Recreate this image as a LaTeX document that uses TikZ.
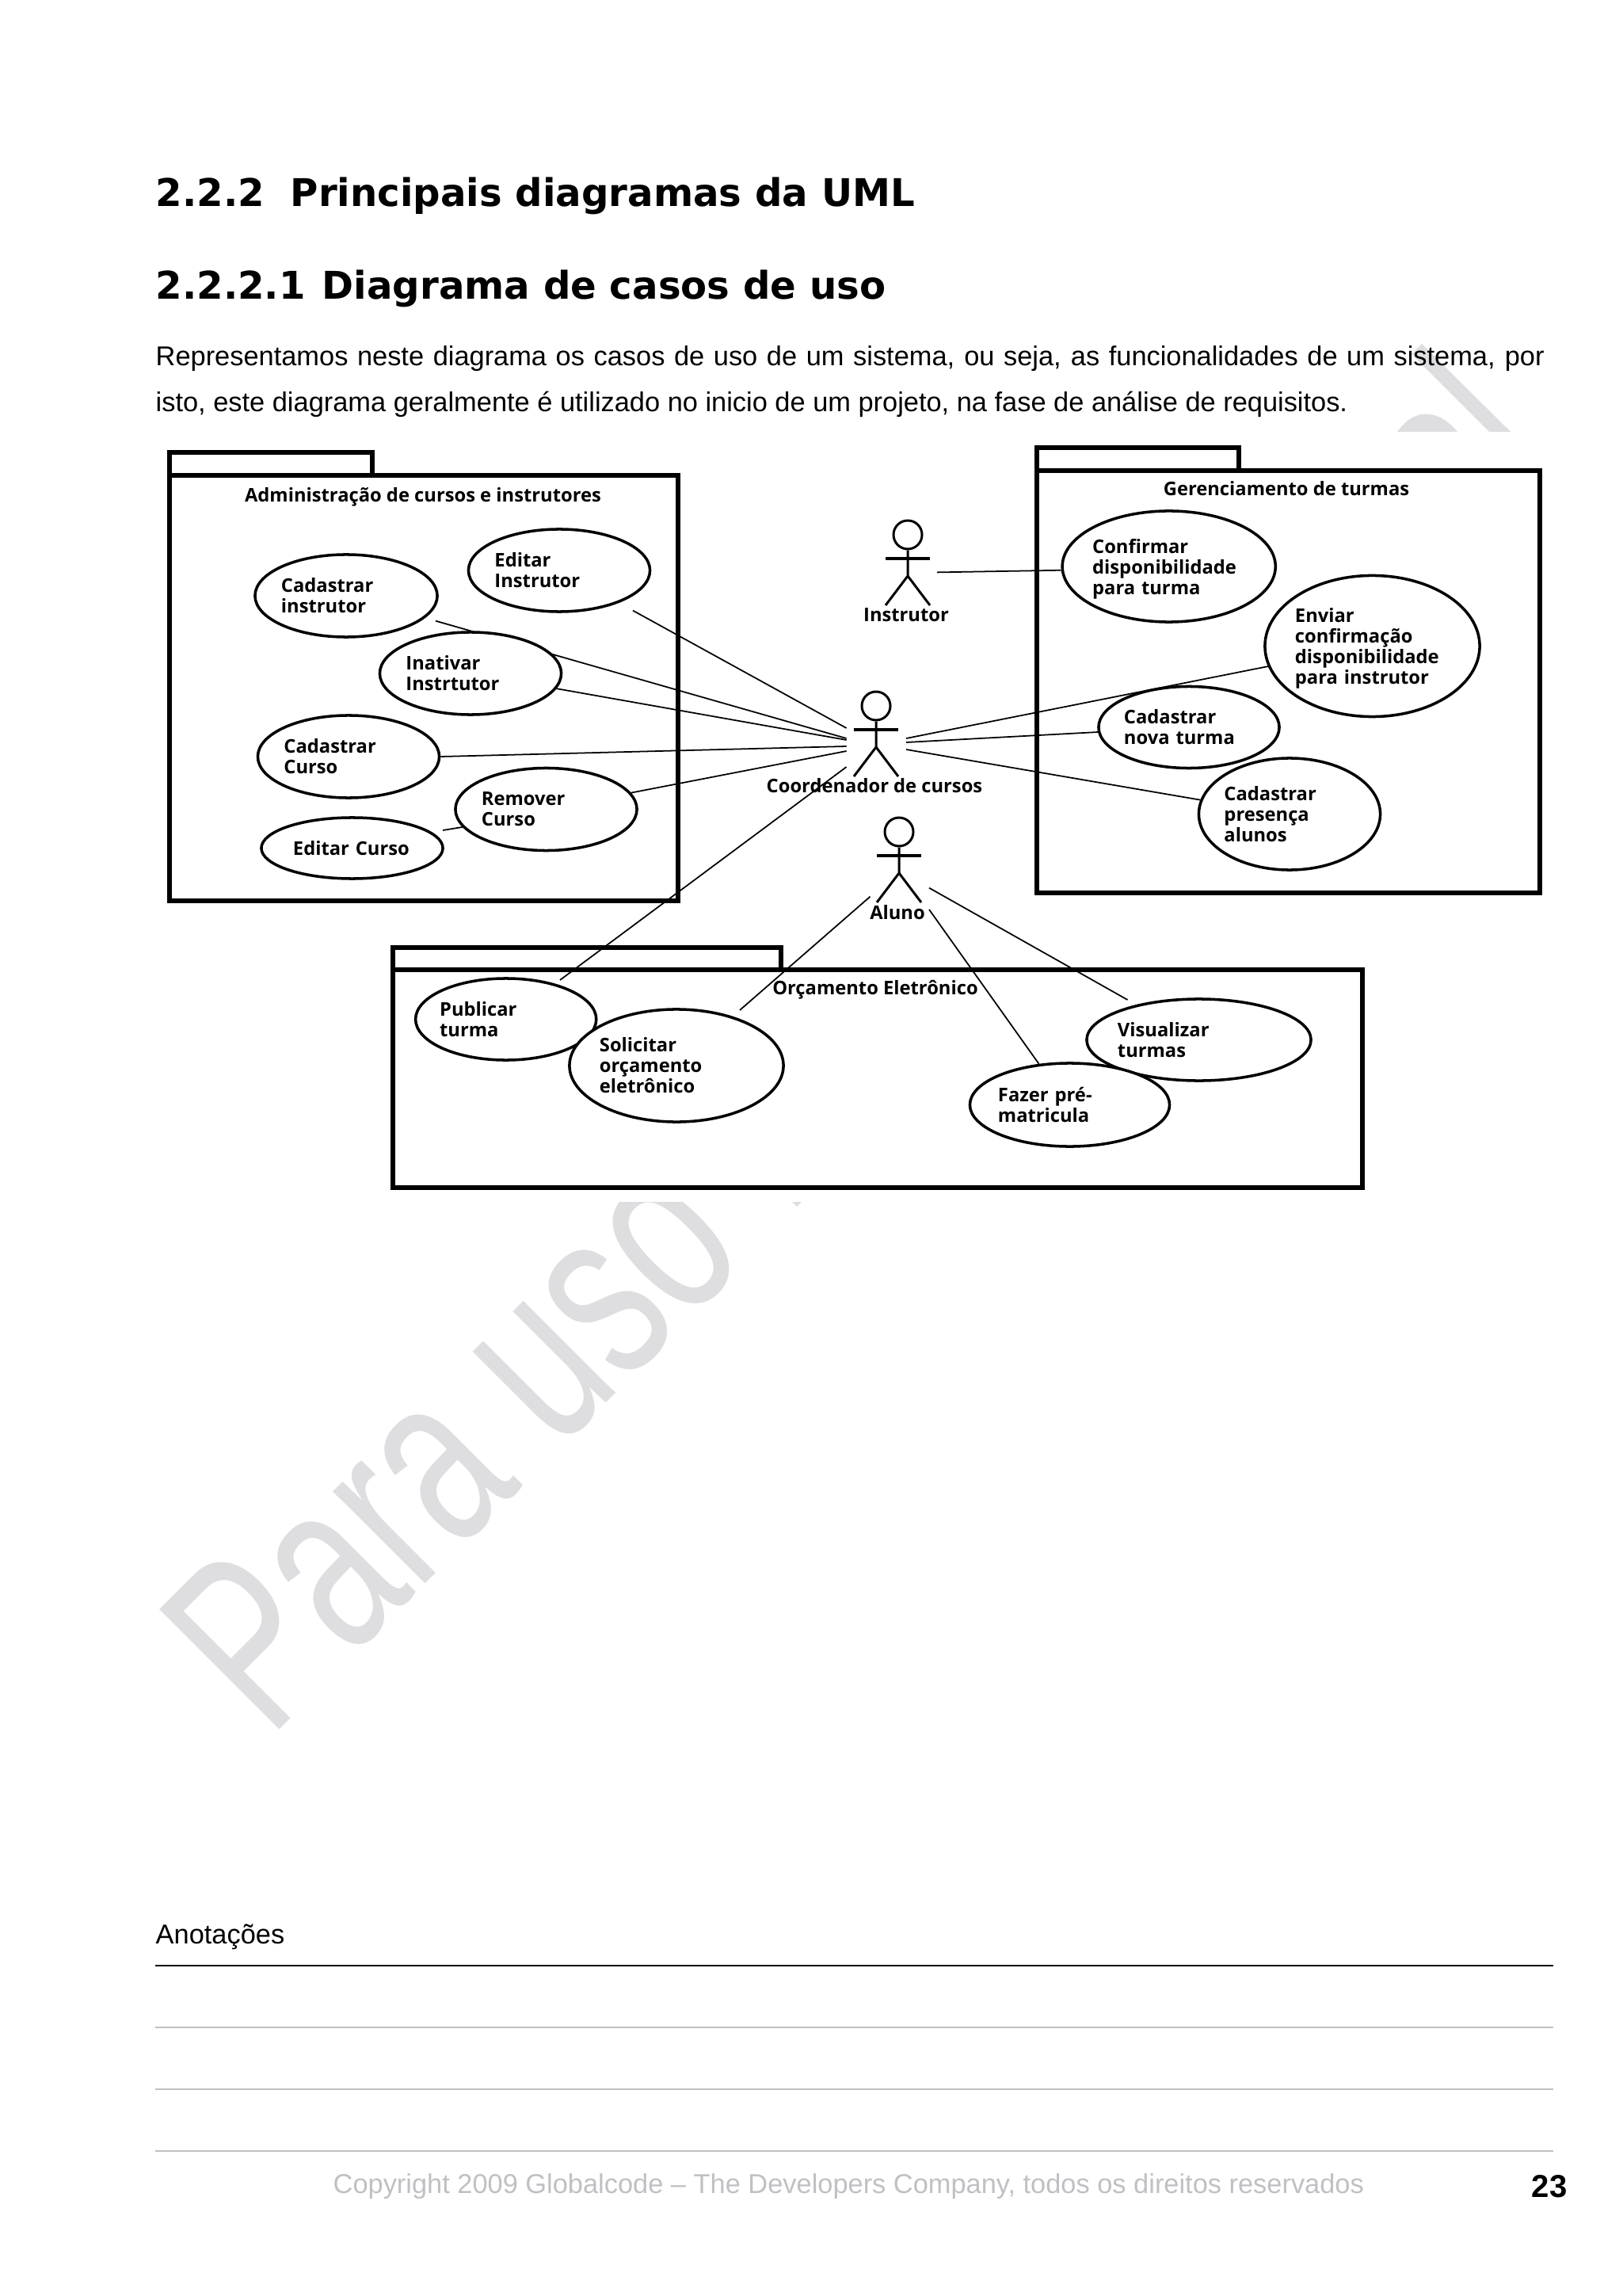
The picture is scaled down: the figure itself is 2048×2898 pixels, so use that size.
\documentclass[tikz,border=0pt]{standalone}
\usepackage{fontspec}
\usetikzlibrary{shapes.geometric}
\setmainfont{Liberation Sans}
\newfontfamily\titlefont{DejaVu Sans}
\newfontfamily\umlfont{Open Sans}
\definecolor{wmgray}{HTML}{DEDDE0}
\definecolor{rulegray}{HTML}{C0C0C4}
\pgfdeclarelayer{back}
\pgfsetlayers{back,main}
\begin{document}
\begin{tikzpicture}[x=0.01cm, y=-0.01cm,
    txt/.style={inner sep=0pt, anchor=base west},
    heading/.style={txt, font=\titlefont\bfseries\fontsize{13.7}{16}\selectfont},
    body/.style={txt, font=\fontsize{9.78}{12}\selectfont},
    uml/.style={font=\umlfont\bfseries\fontsize{6.75}{7.4}\selectfont},
    usecase/.style n args={3}{uml, ellipse, draw, fill=white, line width=1pt, inner xsep=-2pt, inner ysep=0pt,
      minimum width=#1cm, minimum height=#2cm, text width=#3cm, align=left},
    package/.style={draw, line width=1.7pt, line join=miter},
    pkgtitle/.style={uml, inner sep=0pt, anchor=base},
    actor/.style={line width=0.85pt},
    assoc/.style={line width=0.5pt},
    rulefine/.style={rulegray, line width=0.5pt}]
  \useasboundingbox (0,0) rectangle (2048,2898);
  \begin{pgfonlayer}{back}
    \node[txt, rotate=45, xscale=0.69, text=wmgray, font=\fontsize{88.5}{95}\selectfont] (watermark) at (340,2196) {Para uso};
    \fill[wmgray] (1795,434) -- (1782,447) -- (1880,545) -- (1907,545) -- cycle;
    \fill[wmgray] (1764,545) .. controls (1785,515) and (1815,515) .. (1840,545) -- cycle;
    \fill[white] (190,545) rectangle (1955,1517);
    \fill[wmgray] (1000,1517) -- (1012,1517) -- (1006,1523) -- cycle;
  \end{pgfonlayer}

  \node[heading] (secA) at (196,261) {2.2.2\hspace{0.33cm}Principais diagramas da UML};
  \node[heading] (secB) at (196,378) {2.2.2.1\hspace{0.21cm}Diagrama de casos de uso};
  \node[body] (introA) at (196,462) {\makebox[17.52cm][s]{Representamos neste diagrama os casos de uso de um sistema, ou seja, as funcionalidades de um sistema, por}};
  \node[body] (introB) at (196,520) {isto, este diagrama geralmente é utilizado no inicio de um projeto, na fase de análise de requisitos.};

  \draw[package] (214,600) rectangle (856,1137);
  \draw[package] (214,600) -- (214,571) -- (470,571) -- (470,600);
  \node[pkgtitle] (pkgAdmin) at (534,634) {Administração de cursos e instrutores};
  \node[usecase={2.29}{1.04}{1.63}] (editInstr) at (706,720) {Editar\\Instrutor};
  \node[usecase={2.30}{1.04}{1.64}] (cadInstr) at (437,752) {Cadastrar\\instrutor};
  \node[usecase={2.29}{1.04}{1.63}] (inativar) at (594,850) {Inativar\\Instrtutor};
  \node[usecase={2.29}{1.04}{1.63}] (cadCurso) at (440,955) {Cadastrar\\Curso};
  \node[usecase={2.29}{0.77}{1.49}] (editCurso) at (444.5,1070.5) {Editar Curso};
  \node[usecase={2.29}{1.04}{1.63}] (remover) at (689.5,1021.5) {Remover\\Curso};

  \draw[package] (1309,594) rectangle (1944,1127);
  \draw[package] (1309,594) -- (1309,565) -- (1564,565) -- (1564,594);
  \node[pkgtitle] (pkgTurmas) at (1624,626) {Gerenciamento de turmas};
  \node[usecase={2.69}{1.40}{1.93}] (confirmar) at (1475.7,715) {Confirmar\\disponibilidade\\\smash{para turma}};
  \node[usecase={2.71}{1.78}{1.95}] (enviar) at (1732.5,815.5) {Enviar\\confirmação\\disponibilidade\\\smash{para instrutor}};
  \node[usecase={2.28}{1.03}{1.64}] (novaTurma) at (1501,918) {Cadastrar\\nova turma};
  \node[usecase={2.29}{1.41}{1.65}] (presenca) at (1628,1027.5) {Cadastrar\\presença\\alunos};

  \draw[package] (496,1224) rectangle (1720,1499);
  \draw[package] (496,1224) -- (496,1196) -- (986,1196) -- (986,1224);
  \node[pkgtitle] (pkgOrc) at (1105,1255) {Orçamento Eletrônico};
  \node[usecase={2.28}{1.03}{1.67}] (publicar) at (638.7,1286.5) {Publicar\\turma};
  \node[usecase={2.70}{1.42}{1.94}] (solicitar) at (854,1345) {Solicitar\\orçamento\\eletrônico};
  \node[usecase={2.83}{1.03}{2.05}] (visualizar) at (1513.5,1312.5) {Visualizar\\turmas};
  \node[usecase={2.52}{1.05}{1.81}] (fazer) at (1350.5,1394.5) {Fazer pré-\\matricula};

  \foreach \ax/\ay/\nm/\lbl in {1146/675/instrutor/Instrutor, 1106/891/coordenador/Coordenador de cursos, 1135/1050/aluno/Aluno} {
    \node[actor, draw, circle, minimum size=0.36cm, inner sep=0pt] (\nm Head) at (\ax,\ay) {};
    \draw[actor] (\nm Head.south) -- (\ax,\ay+52) -- (\ax-28,\ay+89);
    \draw[actor] (\ax,\ay+52) -- (\ax+28,\ay+89);
    \draw[actor, line width=1.3pt] (\ax-28,\ay+30) -- (\ax+28,\ay+30);
    \node[pkgtitle] (\nm) at (\ax-2,\ay+110) {\lbl};
  }

  \foreach \nm/\px/\py in {instrA/1183/722.4, coA/1068.6/919, coB/1068.6/932, coC/1068.6/934, coD/1068.6/942, coE/1068.6/948, coF/1068.6/968,
      coG/1144/932, coH/1144/937, coI/1144/946, alA/1098.5/1131.7, alB/1173/1148, alC/1173/1120.7,
      editInstrEnd/799/770.6, cadInstrEnd/550/783.7, editCursoEnd/559/1048, publicarEnd/707/1237, solicitarEnd/934/1275, visualizarEnd/1423.5/1262} {
    \coordinate (\nm) at (\px,\py);
  }
  \begin{pgfonlayer}{back}
    \foreach \a/\b in {instrA/confirmar.182, coA/editInstrEnd, coB/cadInstrEnd, coC/inativar.-10, coD/cadCurso.east, coE/remover.11, coF/publicarEnd,
        coG/enviar.191, coH/novaTurma.183, coI/presenca.171, alA/solicitarEnd, alB/fazer.127, alC/visualizarEnd, editCursoEnd/remover.192} {
      \draw[assoc] (\a) -- (\b);
    }
  \end{pgfonlayer}

  \node[body] (notes) at (196,2453) {Anotações};
  \draw[line width=0.6pt] (196,2481) -- (1961,2481);
  \foreach \ly in {2559,2637,2715} {
    \draw[rulefine] (196,\ly) -- (1961,\ly);
  }
  \node[body, text=rulegray] (copyright) at (420,2768) {Copyright 2009 Globalcode – The Developers Company, todos os direitos reservados};
  \node[txt, font=\bfseries\fontsize{11.4}{13}\selectfont] (pageNum) at (1933,2773) {23};
\end{tikzpicture}
\end{document}
